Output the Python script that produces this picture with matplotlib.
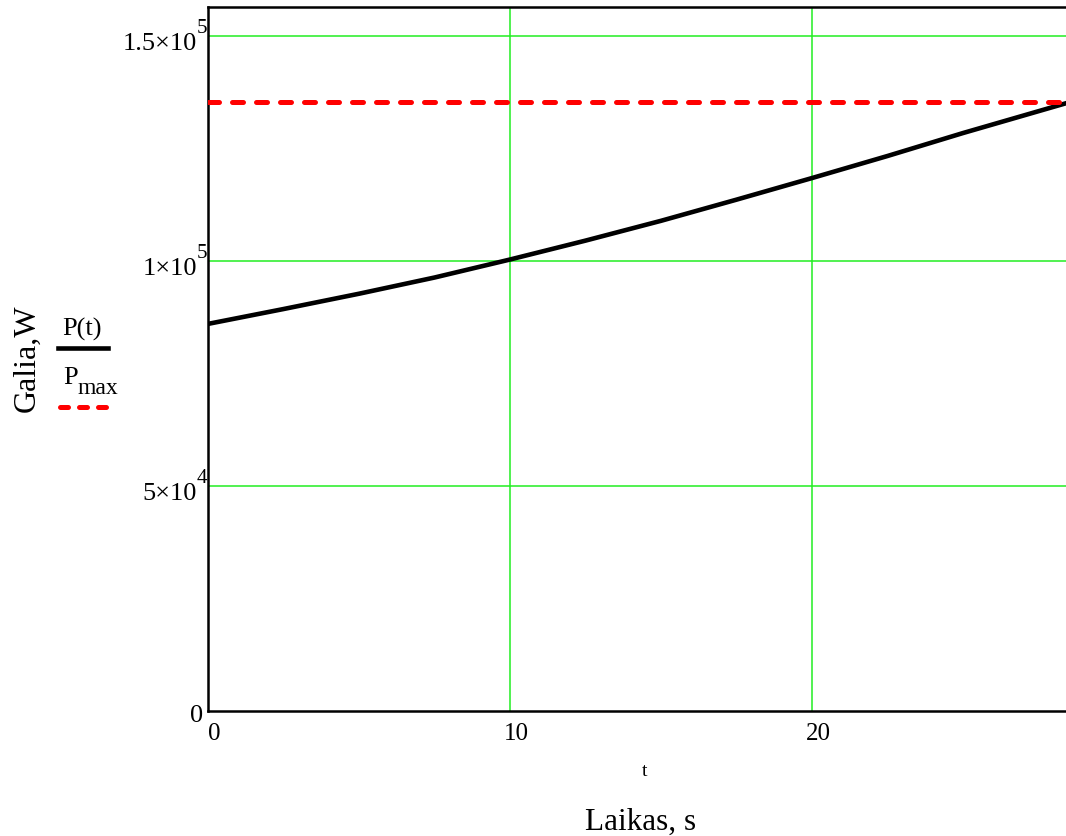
import numpy as np
import matplotlib.pyplot as plt
import matplotlib.transforms as mtransforms
from matplotlib.lines import Line2D

plt.rcParams['font.family'] = ['Liberation Serif', 'DejaVu Serif']

# data
t = [0, 2.5, 5, 7.5, 10, 12.5, 15, 17.5, 20, 22.5, 25, 28.4]
P = [86000, 89300, 92700, 96300, 100300, 104500, 108900, 113600, 118400, 123300, 128400, 135000]
P_max = 135300

y_ticks = [0, 5e4, 1e5, 1.5e5]
y_base = ['0', '5\u00d710', '1\u00d710', '1.5\u00d710']
y_sup = ['', '4', '5', '5']
x_ticks = [0, 10, 20]
x_labels = ['0', '10', '20']

fig = plt.figure(figsize=(10.66, 8.37), dpi=100)
ax = fig.add_axes([208 / 1066, 1 - 712 / 837, 1 - 208 / 1066, (712 - 8) / 837])

# grid
for v in y_ticks[1:]:
    ax.axhline(v, color='#22ee22', lw=1.1, zorder=1)
for v in x_ticks[1:]:
    ax.axvline(v, color='#22ee22', lw=1.1, zorder=1)

ax.plot(t, P, color='black', lw=3.3, zorder=3)
ax.axhline(P_max, color='red', lw=3.6, dashes=(2.2, 2.6), dash_capstyle='round', zorder=4)

ax.set_xlim(0, 28.41)
ax.set_ylim(0, 1.564e5)
ax.set_xticks(x_ticks)
ax.set_xticklabels(x_labels)
ax.set_yticks(y_ticks)
ax.set_yticklabels([])
ax.tick_params(length=0, labelsize=18)
ax.tick_params(axis='x', pad=8)
offset = mtransforms.ScaledTranslation(6 / 100, 0, fig.dpi_scale_trans)
for lbl in ax.get_xticklabels():
    lbl.set_transform(lbl.get_transform() + offset)

# y tick labels drawn Mathcad style, with a big raised exponent
ytr = ax.get_yaxis_transform()
for v, base, sup in zip(y_ticks, y_base, y_sup):
    dx = -11 if sup else -5
    dy = -13 if sup else -10
    tr = ytr + mtransforms.ScaledTranslation(dx / 100, dy / 100, fig.dpi_scale_trans)
    ax.text(0, v, base, transform=tr, ha='right', va='baseline', fontsize=19, clip_on=False)
    if sup:
        tr2 = ytr + mtransforms.ScaledTranslation(-11 / 100, 4 / 100, fig.dpi_scale_trans)
        ax.text(0, v, sup, transform=tr2, ha='left', va='baseline', fontsize=15, clip_on=False)

for s in ['left', 'bottom', 'top']:
    ax.spines[s].set_linewidth(1.8)
ax.spines['right'].set_visible(False)

# axis titles
fig.text(645 / 1066, 1 - 772 / 837, 't', fontsize=14, ha='center', va='center')
fig.text(641 / 1066, 1 - 822 / 837, 'Laikas, s', fontsize=22.5, ha='center', va='center')
fig.text(27 / 1066, 1 - 358 / 837, 'Galia,W', fontsize=23, rotation=90, ha='center', va='center')

# legend beside the y title
fig.text(82 / 1066, 1 - 329 / 837, 'P(t)', fontsize=19, ha='center', va='center')
fig.lines.append(Line2D([58 / 1066, 108 / 1066], [1 - 349 / 837, 1 - 349 / 837],
                        transform=fig.transFigure, color='black', lw=3.3))
fig.text(63 / 1066, 1 - 378 / 837, 'P', fontsize=19, ha='left', va='center')
fig.text(77 / 1066, 1 - 389 / 837, 'max', fontsize=17, ha='left', va='center')
fig.lines.append(Line2D([60 / 1066, 107 / 1066], [1 - 408 / 837, 1 - 408 / 837],
                        transform=fig.transFigure, color='red', lw=3.6,
                        dashes=(1.6, 2.2), dash_capstyle='round'))

fig.savefig('out.png', dpi=100)
